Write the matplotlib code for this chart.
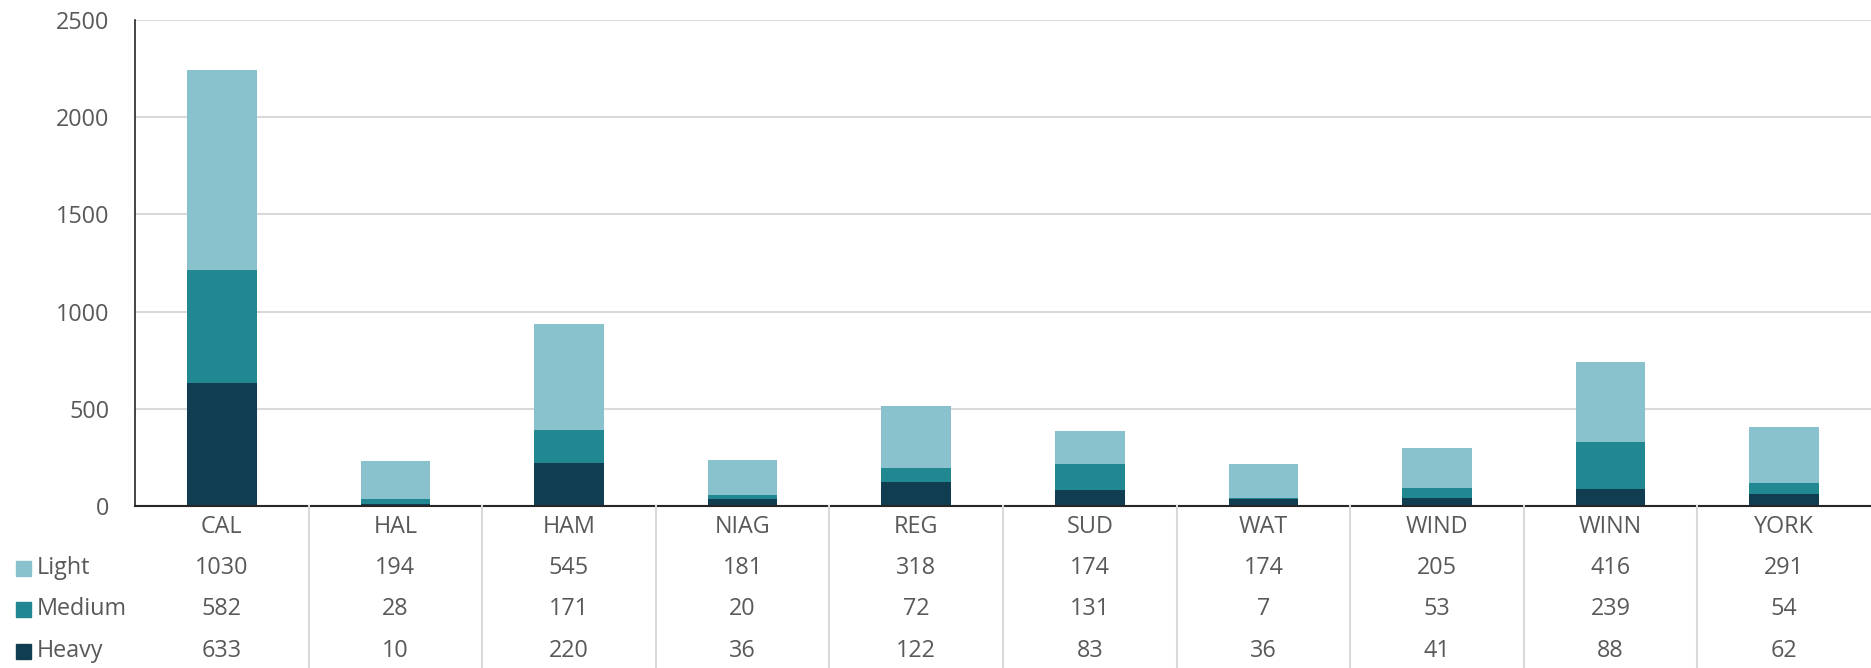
import matplotlib.pyplot as plt
from matplotlib.transforms import blended_transform_factory
from matplotlib.patches import Rectangle

plt.rcParams["font.family"] = ["Open Sans", "DejaVu Sans"]

categories = ["CAL", "HAL", "HAM", "NIAG", "REG", "SUD", "WAT", "WIND", "WINN", "YORK"]
light = [1030, 194, 545, 181, 318, 174, 174, 205, 416, 291]
medium = [582, 28, 171, 20, 72, 131, 7, 53, 239, 54]
heavy = [633, 10, 220, 36, 122, 83, 36, 41, 88, 62]

series = [("Heavy", heavy, "#113d51"), ("Medium", medium, "#218892"), ("Light", light, "#89c2cc")]
table_rows = [("Light", light, "#89c2cc"), ("Medium", medium, "#218892"), ("Heavy", heavy, "#113d51")]

W, H = 1871, 668
text_color = "#595959"
fs = 16.8

fig = plt.figure(figsize=(W / 100, H / 100), dpi=100)
ax = fig.add_axes([135 / W, (H - 506) / H, 1 - 135 / W, (506 - 20) / H])

x = list(range(len(categories)))
bottom = [0] * len(categories)
for name, vals, color in series:
    ax.bar(x, vals, width=0.4, bottom=bottom, color=color, zorder=3)
    bottom = [b + v for b, v in zip(bottom, vals)]

ax.set_xlim(-0.5, len(categories) - 0.5)
ax.set_ylim(0, 2500)
ax.set_yticks(range(0, 2501, 500))
ax.yaxis.grid(True, color="#d9d9d9", linewidth=1.5, zorder=0)
ax.set_xticks([])
ax.tick_params(axis="y", length=0, pad=18.5, labelsize=fs, labelcolor=text_color)
for s in ["top", "right"]:
    ax.spines[s].set_visible(False)
ax.spines["left"].set_color("#262626")
ax.spines["bottom"].set_color("#262626")
ax.spines["left"].set_linewidth(1.2)
ax.spines["bottom"].set_linewidth(1.5)
ax.spines["bottom"].set_zorder(4)

# data table below the axis
tr = blended_transform_factory(ax.transData, fig.transFigure)
for i in range(len(categories) - 1):
    fig.add_artist(plt.Line2D([i + 0.5, i + 0.5], [0, (H - 506) / H], transform=tr,
                              color="#d9d9d9", linewidth=1.5))

ax_rows_y = [527, 568, 609, 651]
for i, c in enumerate(categories):
    fig.text(i, (H - ax_rows_y[0]) / H, c, transform=tr, ha="center", va="center",
             fontsize=fs, color=text_color)
for r, (name, vals, color) in enumerate(table_rows):
    yy = (H - ax_rows_y[r + 1]) / H
    for i, v in enumerate(vals):
        fig.text(i, yy, str(v), transform=tr, ha="center", va="center",
                 fontsize=fs, color=text_color)
    fig.add_artist(Rectangle((16 / W, yy - 7.5 / H), 15 / W, 15 / H,
                             transform=fig.transFigure, color=color))
    fig.text(37 / W, yy, name, ha="left", va="center", fontsize=fs, color=text_color)

fig.savefig("out.png", dpi=100)
